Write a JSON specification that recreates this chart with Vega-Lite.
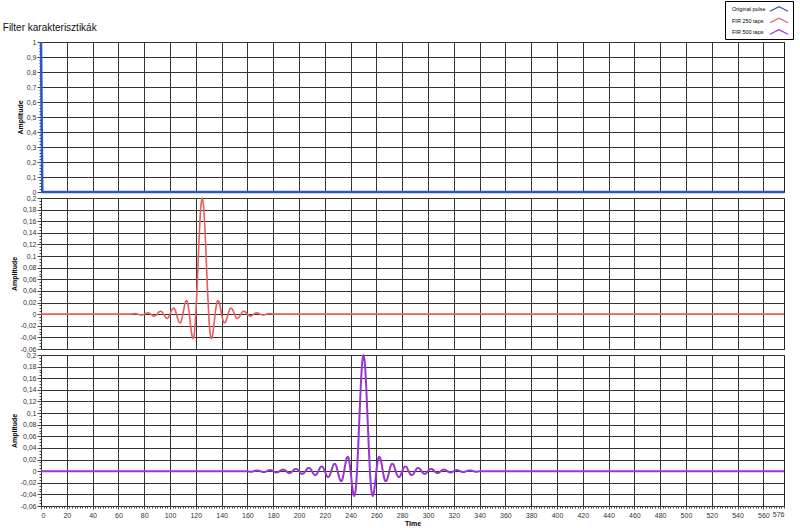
{
  "$schema": "https://vega.github.io/schema/vega-lite/v6.json",
  "padding": {"left": 2, "top": 0, "right": 0, "bottom": 0},
  "background": "white",
  "bounds": "flush",
  "datasets": {
    "pulse": [{"t":0,"v":1},{"t":1,"v":0},{"t":576,"v":0}],
    "fir250": [
      {"t":0,"v":0},
      {"t":70,"v":0},{"t":71,"v":0.00044},{"t":72,"v":0.00078},{"t":73,"v":0.00086},{"t":74,"v":0.00059},{"t":75,"v":0},{"t":76,"v":-0.00072},{"t":77,"v":-0.00128},{"t":78,"v":-0.00141},{"t":79,"v":-0.00096},
      {"t":80,"v":0},{"t":81,"v":0.00115},{"t":82,"v":0.00204},{"t":83,"v":0.00223},{"t":84,"v":0.00151},{"t":85,"v":0},{"t":86,"v":-0.00178},{"t":87,"v":-0.00313},{"t":88,"v":-0.0034},{"t":89,"v":-0.00227},
      {"t":90,"v":0},{"t":91,"v":0.00266},{"t":92,"v":0.00464},{"t":93,"v":0.005},{"t":94,"v":0.00333},{"t":95,"v":0},{"t":96,"v":-0.00385},{"t":97,"v":-0.0067},{"t":98,"v":-0.0072},{"t":99,"v":-0.00478},
      {"t":100,"v":0},{"t":101,"v":0.00552},{"t":102,"v":0.0096},{"t":103,"v":0.01032},{"t":104,"v":0.00686},{"t":105,"v":0},{"t":106,"v":-0.00796},{"t":107,"v":-0.01391},{"t":108,"v":-0.01504},{"t":109,"v":-0.01007},
      {"t":110,"v":0},{"t":111,"v":0.01193},{"t":112,"v":0.02111},{"t":113,"v":0.02321},{"t":114,"v":0.01586},{"t":115,"v":0},{"t":116,"v":-0.01984},{"t":117,"v":-0.03647},{"t":118,"v":-0.04205},{"t":119,"v":-0.03055},
      {"t":120,"v":0},{"t":121,"v":0.04635},{"t":122,"v":0.10039},{"t":123,"v":0.15102},{"t":124,"v":0.18699},{"t":125,"v":0.2},
      {"t":126,"v":0.18699},{"t":127,"v":0.15102},{"t":128,"v":0.10039},{"t":129,"v":0.04635},{"t":130,"v":0},{"t":131,"v":-0.03055},{"t":132,"v":-0.04205},{"t":133,"v":-0.03647},{"t":134,"v":-0.01984},
      {"t":135,"v":0},{"t":136,"v":0.01586},{"t":137,"v":0.02321},{"t":138,"v":0.02111},{"t":139,"v":0.01193},{"t":140,"v":0},{"t":141,"v":-0.01007},{"t":142,"v":-0.01504},{"t":143,"v":-0.01391},{"t":144,"v":-0.00796},
      {"t":145,"v":0},{"t":146,"v":0.00686},{"t":147,"v":0.01032},{"t":148,"v":0.0096},{"t":149,"v":0.00552},{"t":150,"v":0},{"t":151,"v":-0.00478},{"t":152,"v":-0.0072},{"t":153,"v":-0.0067},{"t":154,"v":-0.00385},
      {"t":155,"v":0},{"t":156,"v":0.00333},{"t":157,"v":0.005},{"t":158,"v":0.00464},{"t":159,"v":0.00266},{"t":160,"v":0},{"t":161,"v":-0.00227},{"t":162,"v":-0.0034},{"t":163,"v":-0.00313},{"t":164,"v":-0.00178},
      {"t":165,"v":0},{"t":166,"v":0.00151},{"t":167,"v":0.00223},{"t":168,"v":0.00204},{"t":169,"v":0.00115},{"t":170,"v":0},{"t":171,"v":-0.00096},{"t":172,"v":-0.00141},{"t":173,"v":-0.00128},{"t":174,"v":-0.00072},
      {"t":175,"v":0},{"t":176,"v":0.00059},{"t":177,"v":0.00086},{"t":178,"v":0.00078},{"t":179,"v":0.00044},{"t":180,"v":0},
      {"t":576,"v":0}
    ],
    "fir500": [
      {"t":0,"v":0},
      {"t":160,"v":0},{"t":161,"v":-0.00054},{"t":162,"v":-0.00091},{"t":163,"v":-0.00095},{"t":164,"v":-0.00062},{"t":165,"v":0},{"t":166,"v":0.00068},{"t":167,"v":0.00114},{"t":168,"v":0.00119},{"t":169,"v":0.00077},
      {"t":170,"v":0},{"t":171,"v":-0.00084},{"t":172,"v":-0.00142},{"t":173,"v":-0.00148},{"t":174,"v":-0.00095},{"t":175,"v":0},{"t":176,"v":0.00103},{"t":177,"v":0.00174},{"t":178,"v":0.00181},{"t":179,"v":0.00117},
      {"t":180,"v":0},{"t":181,"v":-0.00126},{"t":182,"v":-0.00212},{"t":183,"v":-0.00221},{"t":184,"v":-0.00142},{"t":185,"v":0},{"t":186,"v":0.00153},{"t":187,"v":0.00257},{"t":188,"v":0.00266},{"t":189,"v":0.00171},
      {"t":190,"v":0},{"t":191,"v":-0.00184},{"t":192,"v":-0.00309},{"t":193,"v":-0.0032},{"t":194,"v":-0.00205},{"t":195,"v":0},{"t":196,"v":0.00221},{"t":197,"v":0.00371},{"t":198,"v":0.00384},{"t":199,"v":0.00246},
      {"t":200,"v":0},{"t":201,"v":-0.00265},{"t":202,"v":-0.00444},{"t":203,"v":-0.0046},{"t":204,"v":-0.00295},{"t":205,"v":0},{"t":206,"v":0.00317},{"t":207,"v":0.00533},{"t":208,"v":0.00553},{"t":209,"v":0.00354},
      {"t":210,"v":0},{"t":211,"v":-0.00382},{"t":212,"v":-0.00642},{"t":213,"v":-0.00667},{"t":214,"v":-0.00428},{"t":215,"v":0},{"t":216,"v":0.00463},{"t":217,"v":0.0078},{"t":218,"v":0.00813},{"t":219,"v":0.00523},
      {"t":220,"v":0},{"t":221,"v":-0.0057},{"t":222,"v":-0.00963},{"t":223,"v":-0.01007},{"t":224,"v":-0.00651},{"t":225,"v":0},{"t":226,"v":0.00716},{"t":227,"v":0.01218},{"t":228,"v":0.01282},{"t":229,"v":0.00835},
      {"t":230,"v":0},{"t":231,"v":-0.00934},{"t":232,"v":-0.01604},{"t":233,"v":-0.01707},{"t":234,"v":-0.01126},{"t":235,"v":0},{"t":236,"v":0.01299},{"t":237,"v":0.02272},{"t":238,"v":0.0247},{"t":239,"v":0.01671},
      {"t":240,"v":0},{"t":241,"v":-0.02054},{"t":242,"v":-0.03749},{"t":243,"v":-0.04294},{"t":244,"v":-0.03102},{"t":245,"v":0},{"t":246,"v":0.04667},{"t":247,"v":0.10078},{"t":248,"v":0.15128},{"t":249,"v":0.18707},
      {"t":250,"v":0.2},
      {"t":251,"v":0.18707},{"t":252,"v":0.15128},{"t":253,"v":0.10078},{"t":254,"v":0.04667},{"t":255,"v":0},{"t":256,"v":-0.03102},{"t":257,"v":-0.04294},{"t":258,"v":-0.03749},{"t":259,"v":-0.02054},
      {"t":260,"v":0},{"t":261,"v":0.01671},{"t":262,"v":0.0247},{"t":263,"v":0.02272},{"t":264,"v":0.01299},{"t":265,"v":0},{"t":266,"v":-0.01126},{"t":267,"v":-0.01707},{"t":268,"v":-0.01604},{"t":269,"v":-0.00934},
      {"t":270,"v":0},{"t":271,"v":0.00835},{"t":272,"v":0.01282},{"t":273,"v":0.01218},{"t":274,"v":0.00716},{"t":275,"v":0},{"t":276,"v":-0.00651},{"t":277,"v":-0.01007},{"t":278,"v":-0.00963},{"t":279,"v":-0.0057},
      {"t":280,"v":0},{"t":281,"v":0.00523},{"t":282,"v":0.00813},{"t":283,"v":0.0078},{"t":284,"v":0.00463},{"t":285,"v":0},{"t":286,"v":-0.00428},{"t":287,"v":-0.00667},{"t":288,"v":-0.00642},{"t":289,"v":-0.00382},
      {"t":290,"v":0},{"t":291,"v":0.00354},{"t":292,"v":0.00553},{"t":293,"v":0.00533},{"t":294,"v":0.00317},{"t":295,"v":0},{"t":296,"v":-0.00295},{"t":297,"v":-0.0046},{"t":298,"v":-0.00444},{"t":299,"v":-0.00265},
      {"t":300,"v":0},{"t":301,"v":0.00246},{"t":302,"v":0.00384},{"t":303,"v":0.00371},{"t":304,"v":0.00221},{"t":305,"v":0},{"t":306,"v":-0.00205},{"t":307,"v":-0.0032},{"t":308,"v":-0.00309},{"t":309,"v":-0.00184},
      {"t":310,"v":0},{"t":311,"v":0.00171},{"t":312,"v":0.00266},{"t":313,"v":0.00257},{"t":314,"v":0.00153},{"t":315,"v":0},{"t":316,"v":-0.00142},{"t":317,"v":-0.00221},{"t":318,"v":-0.00212},{"t":319,"v":-0.00126},
      {"t":320,"v":0},{"t":321,"v":0.00117},{"t":322,"v":0.00181},{"t":323,"v":0.00174},{"t":324,"v":0.00103},{"t":325,"v":0},{"t":326,"v":-0.00095},{"t":327,"v":-0.00148},{"t":328,"v":-0.00142},{"t":329,"v":-0.00084},
      {"t":330,"v":0},{"t":331,"v":0.00077},{"t":332,"v":0.00119},{"t":333,"v":0.00114},{"t":334,"v":0.00068},{"t":335,"v":0},{"t":336,"v":-0.00062},{"t":337,"v":-0.00095},{"t":338,"v":-0.00091},{"t":339,"v":-0.00054},
      {"t":340,"v":0},
      {"t":576,"v":0}
    ]
  },
  "resolve": {"scale": {"color": "shared"}, "legend": {"color": "shared"}},
  "spacing": 6,
  "vconcat": [
    {
      "width": 743, "height": 150,
      "title": {"text": "Filter karakterisztikák", "anchor": "start", "frame": "bounds", "font": "Liberation Sans", "fontSize": 10, "fontWeight": "normal", "color": "#111", "dx": -13.5, "offset": 4},
      "data": {"name": "pulse"},
      "mark": {"type": "line", "strokeWidth": 2.5},
      "encoding": {
        "x": {"field": "t", "type": "quantitative", "scale": {"domain": [0, 576], "nice": false, "zero": false},
              "axis": {"title": null, "labels": false, "ticks": false, "tickCount": 29, "grid": true}},
        "y": {"field": "v", "type": "quantitative", "scale": {"domain": [0, 1], "nice": false},
              "axis": {"title": "Amplitude", "tickCount": 50, "labelOverlap": false,
                       "labelExpr": "round(datum.value*100) % 10 == 0 ? replace(format(datum.value, '.1~f'), '.', ',') : ''",
                       "gridOpacity": {"condition": {"test": "round(datum.value*100) % 10 == 0", "value": 1}, "value": 0},
                       "tickSize": {"condition": {"test": "round(datum.value*100) % 10 == 0", "value": 4}, "value": 2}}},
        "color": {"datum": "Original pulse", "type": "nominal",
                  "scale": {"domain": ["Original pulse", "FIR 250 taps", "FIR 500 taps"], "range": ["#2a56c6", "#ec5c5c", "#9b35d2"]},
                  "legend": {"title": null, "orient": "none", "legendX": 684, "legendY": -41}}
      }
    },
    {
      "width": 743, "height": 151,
      "data": {"name": "fir250"},
      "mark": {"type": "line", "strokeWidth": 1.6, "interpolate": "monotone"},
      "encoding": {
        "x": {"field": "t", "type": "quantitative", "scale": {"domain": [0, 576], "nice": false, "zero": false},
              "axis": {"title": null, "labels": false, "ticks": false, "tickCount": 29, "grid": true}},
        "y": {"field": "v", "type": "quantitative", "scale": {"domain": [-0.06, 0.2], "nice": false, "zero": false},
              "axis": {"title": "Amplitude", "tickCount": 52, "labelOverlap": false,
                       "labelExpr": "round(datum.value*1000) % 20 == 0 ? replace(replace(format(datum.value, '.2~f'), '.', ','), '\u2212', '-') : ''",
                       "gridOpacity": {"condition": {"test": "round(datum.value*1000) % 20 == 0", "value": 1}, "value": 0},
                       "tickSize": {"condition": {"test": "round(datum.value*1000) % 20 == 0", "value": 4}, "value": 2}}},
        "color": {"datum": "FIR 250 taps", "type": "nominal",
                  "scale": {"domain": ["Original pulse", "FIR 250 taps", "FIR 500 taps"], "range": ["#2a56c6", "#ec5c5c", "#9b35d2"]},
                  "legend": {"title": null, "orient": "none", "legendX": 684, "legendY": -41}}
      }
    },
    {
      "width": 743, "height": 151,
      "data": {"name": "fir500"},
      "mark": {"type": "line", "strokeWidth": 2, "interpolate": "monotone"},
      "encoding": {
        "x": {"field": "t", "type": "quantitative", "scale": {"domain": [0, 576], "nice": false, "zero": false},
              "axis": {"title": "Time", "tickCount": 288, "labelOverlap": false, "labelPadding": 2, "titlePadding": 1,
                       "labelExpr": "datum.value % 20 == 0 || datum.value == 576 ? datum.label : ''",
                       "gridOpacity": {"condition": {"test": "datum.value % 20 == 0", "value": 1}, "value": 0},
                       "tickSize": {"condition": {"test": "datum.value % 20 == 0", "value": 3}, "value": 2}}},
        "y": {"field": "v", "type": "quantitative", "scale": {"domain": [-0.06, 0.2], "nice": false, "zero": false},
              "axis": {"title": "Amplitude", "tickCount": 52, "labelOverlap": false,
                       "labelExpr": "round(datum.value*1000) % 20 == 0 ? replace(replace(format(datum.value, '.2~f'), '.', ','), '\u2212', '-') : ''",
                       "gridOpacity": {"condition": {"test": "round(datum.value*1000) % 20 == 0", "value": 1}, "value": 0},
                       "tickSize": {"condition": {"test": "round(datum.value*1000) % 20 == 0", "value": 4}, "value": 2}}},
        "color": {"datum": "FIR 500 taps", "type": "nominal",
                  "scale": {"domain": ["Original pulse", "FIR 250 taps", "FIR 500 taps"], "range": ["#2a56c6", "#ec5c5c", "#9b35d2"]},
                  "legend": {"title": null, "orient": "none", "legendX": 684, "legendY": -41}}
      }
    }
  ],
  "config": {
    "view": {"stroke": "#222", "strokeWidth": 1},
    "axis": {"labelFont": "Liberation Sans", "labelFontSize": 7, "labelColor": "#333", "labelPadding": 1,
             "titleFont": "Liberation Sans", "titleFontSize": 7, "titleFontWeight": "bold", "titleColor": "#000", "titlePadding": 3,
             "gridColor": "#333", "gridWidth": 1, "tickColor": "#444", "domain": false},
    "legend": {"padding": 2, "fillColor": "white", "strokeColor": "#000", "labelFont": "Liberation Sans", "labelFontSize": 5.5, "labelColor": "#000",
               "symbolType": "M-1.8,0.45L0,-0.45L1.8,0.45", "symbolSize": 100, "symbolStrokeWidth": 1.2, "symbolFillColor": "transparent",
               "rowPadding": 0.5, "symbolOffset": 46, "labelOffset": -53}
  }
}
